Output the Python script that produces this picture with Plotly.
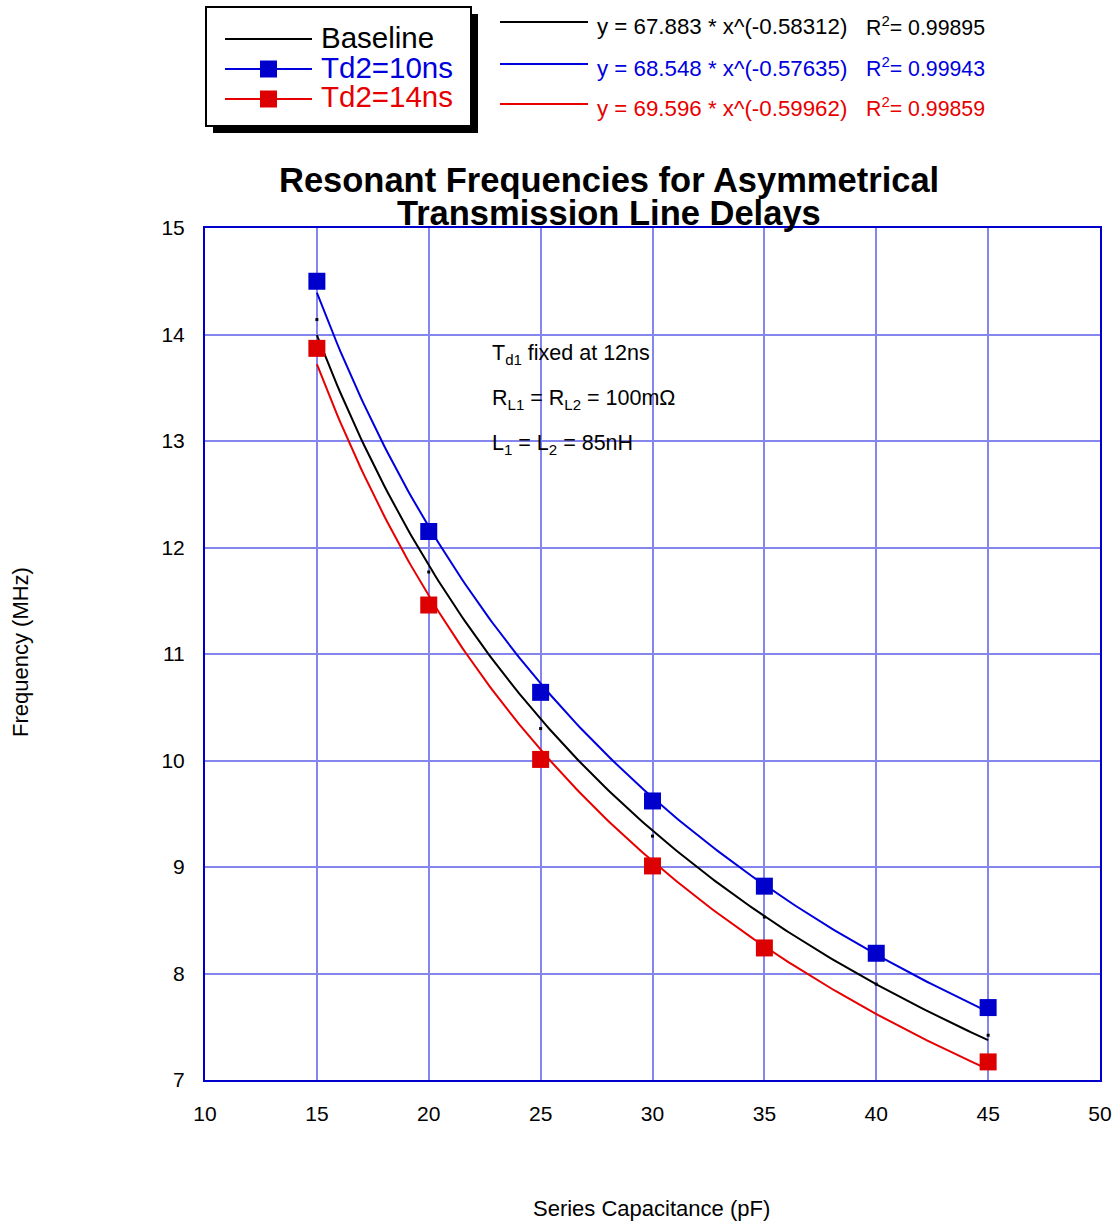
import numpy as np
import plotly.graph_objects as go

# Series capacitance (pF)
cap_pf = [15, 20, 25, 30, 35, 40, 45]

# Measured resonant frequencies (MHz)
freq_baseline = [14.14, 11.77, 10.30, 9.29, 8.53, 7.90, 7.42]
freq_td10 = [14.50, 12.15, 10.64, 9.62, 8.82, 8.19, 7.68]
freq_td14 = [13.87, 11.46, 10.01, 9.01, 8.24, None, 7.17]

# Power-law fits y = a * x^b and their R^2
fit_a = [67.883, 68.548, 69.596]
fit_b = [-0.58312, -0.57635, -0.59962]
fit_r2 = ["0.99895", "0.99943", "0.99859"]

series_names = ["Baseline", "Td2=10ns", "Td2=14ns"]
line_colors = ["#000000", "#0000dd", "#e80000"]
marker_colors = ["#000000", "#0000cc", "#dd0000"]

x_ticks = [10, 15, 20, 25, 30, 35, 40, 45, 50]
y_ticks = [7, 8, 9, 10, 11, 12, 13, 14, 15]

W, H = 1119, 1226
L, R, T, B = 205, 19, 228, 146
PW, PH = W - L - R, H - T - B


def px(xp):
    return (xp - L) / PW


def py(yp):
    return (H - B - yp) / PH


FONT = "Liberation Sans, Arial, sans-serif"
fig = go.Figure()

# Fitted power-law curves
xs = np.linspace(min(cap_pf), max(cap_pf), 200)
for a, b, c in zip(fit_a, fit_b, line_colors):
    fig.add_trace(go.Scatter(x=xs, y=a * xs ** b, mode="lines",
                             line=dict(color=c, width=2), showlegend=False,
                             hoverinfo="skip"))

# Measured points
fig.add_trace(go.Scatter(x=cap_pf, y=freq_baseline, mode="markers",
                         marker=dict(symbol="square", size=3, color=marker_colors[0]),
                         showlegend=False))
fig.add_trace(go.Scatter(x=cap_pf, y=freq_td10, mode="markers",
                         marker=dict(symbol="square", size=17, color=marker_colors[1]),
                         showlegend=False))
fig.add_trace(go.Scatter(x=cap_pf, y=freq_td14, mode="markers",
                         marker=dict(symbol="square", size=17, color=marker_colors[2]),
                         showlegend=False))

shapes = []
annotations = []

# Legend box with drop shadow
shapes.append(dict(type="rect", xref="paper", yref="paper",
                   x0=px(213), x1=px(478), y0=py(133), y1=py(14),
                   fillcolor="black", line=dict(width=0), layer="above"))
shapes.append(dict(type="rect", xref="paper", yref="paper",
                   x0=px(206), x1=px(471), y0=py(126), y1=py(7),
                   fillcolor="white", line=dict(color="black", width=2), layer="above"))
legend_rows = [39, 69, 99]
for i, (name, yy) in enumerate(zip(series_names, legend_rows)):
    shapes.append(dict(type="line", xref="paper", yref="paper",
                       x0=px(225), x1=px(312), y0=py(yy), y1=py(yy),
                       line=dict(color=line_colors[i], width=2), layer="above"))
    if i > 0:
        shapes.append(dict(type="rect", xref="paper", yref="paper",
                           x0=px(260), x1=px(277), y0=py(yy + 8.5), y1=py(yy - 8.5),
                           fillcolor=marker_colors[i], line=dict(width=0), layer="above"))
    annotations.append(dict(xref="paper", yref="paper", x=px(319), y=py(yy - 2),
                            xanchor="left", yanchor="middle", showarrow=False,
                            text=name, font=dict(family=FONT, size=29.5, color=line_colors[i])))

# Fit equations
eq_rows = [22, 64, 104]
for i, yy in enumerate(eq_rows):
    shapes.append(dict(type="line", xref="paper", yref="paper",
                       x0=px(500), x1=px(588), y0=py(yy), y1=py(yy),
                       line=dict(color=line_colors[i], width=2), layer="above"))
    annotations.append(dict(xref="paper", yref="paper", x=px(595), y=py(yy + 5),
                            xanchor="left", yanchor="middle", showarrow=False,
                            text=f"y = {fit_a[i]:.3f} * x^({fit_b[i]:.5f})",
                            font=dict(family=FONT, size=22.3, color=line_colors[i])))
    annotations.append(dict(xref="paper", yref="paper", x=px(864), y=py(yy + 4),
                            xanchor="left", yanchor="middle", showarrow=False,
                            text=f"R<sup>2</sup>= {fit_r2[i]}",
                            font=dict(family=FONT, size=21.3, color=line_colors[i])))

# Title (two tight lines)
for txt, yy in [("Resonant Frequencies for Asymmetrical", 180),
                ("Transmission Line Delays", 213)]:
    annotations.append(dict(xref="paper", yref="paper", x=px(609), y=py(yy),
                            xanchor="center", yanchor="middle", showarrow=False,
                            text=f"<b>{txt}</b>",
                            font=dict(family=FONT, size=34.5, color="black")))

# Circuit parameters
for txt, yy in [("T<sub>d1</sub> fixed at 12ns", 354),
                ("R<sub>L1</sub> = R<sub>L2</sub> = 100mΩ", 399),
                ("L<sub>1</sub> = L<sub>2</sub> = 85nH", 444)]:
    annotations.append(dict(xref="paper", yref="paper", x=px(490), y=py(yy),
                            xanchor="left", yanchor="middle", showarrow=False,
                            text=txt, font=dict(family=FONT, size=21.5, color="black")))

# Axis titles
annotations.append(dict(xref="paper", yref="paper", x=px(651), y=py(1208),
                        xanchor="center", yanchor="middle", showarrow=False,
                        text="Series Capacitance (pF)",
                        font=dict(family=FONT, size=22, color="black")))
annotations.append(dict(xref="paper", yref="paper", x=px(20), y=py(652),
                        xanchor="center", yanchor="middle", showarrow=False,
                        textangle=-90, text="Frequency (MHz)",
                        font=dict(family=FONT, size=22, color="black")))

axis_common = dict(showgrid=True, gridcolor="#8585ee", gridwidth=2,
                   showline=True, linecolor="#0000cc", linewidth=2, mirror=True,
                   zeroline=False, ticks="", automargin=False,
                   tickfont=dict(family=FONT, size=21, color="black"))

fig.update_layout(
    width=W, height=H,
    margin=dict(l=L, r=R, t=T, b=B),
    paper_bgcolor="white", plot_bgcolor="white",
    showlegend=False,
    shapes=shapes, annotations=annotations,
    xaxis=dict(range=[10, 50], tickvals=x_ticks, ticklabelstandoff=14, **axis_common),
    yaxis=dict(range=[7, 15], tickvals=y_ticks, ticklabelstandoff=14, **axis_common),
)

fig.write_html("out.html")
